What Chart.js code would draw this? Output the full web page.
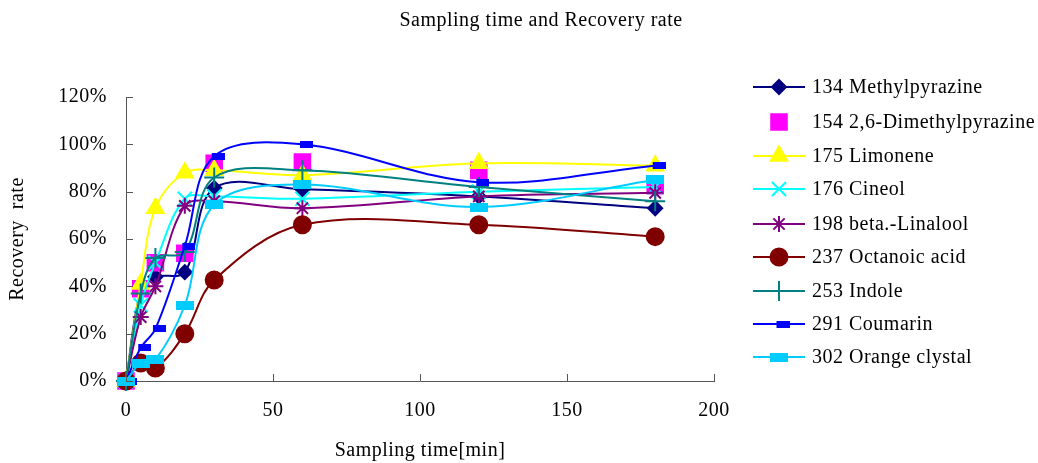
<!DOCTYPE html>
<html>
<head>
<meta charset="utf-8">
<script src="https://cdn.jsdelivr.net/npm/chart.js@4/dist/chart.umd.min.js"></script>
<style>
  html, body { margin: 0; padding: 0; background: #fff; }
  #wrap { width: 1038px; height: 463px; position: relative; }
</style>
</head>
<body>
<div id="wrap"><canvas id="chart" width="1038" height="463"></canvas></div>
<script>
// sampling times (min)
const times = [0, 5, 10, 20, 30, 60, 120, 180];

// recovery rate (%) per compound
const methylpyrazine    = [0, 38, 44, 46, 81.5, 81, 78, 73];
const dimethylpyrazine  = [0, 39, 50, 54, 92, 92.5, 89, 82.5];
const limonene          = [0, 41, 73, 88, 89, 87, 92, 91];
const cineol            = [0, 32, 50, 77, 78, 77, 80, 82];
const linalool          = [0, 27, 40, 74, 76, 73, 78, 79.5];
const octanoicAcid      = [0, 7.6, 5.5, 20, 42.7, 66, 66, 61];
const indole            = [0, 37, 52, 54.5, 86, 89, 82, 76];
const coumarin          = [0, 14, 22, 57, 95, 100, 84, 91];
const orangeClystal     = [0, 7.6, 9, 32, 74.5, 83, 73.5, 85];

const seriesNames = ['134 Methylpyrazine', '154 2,6-Dimethylpyrazine', '175 Limonene', '176 Cineol',
  '198 beta.-Linalool', '237 Octanoic acid', '253 Indole', '291 Coumarin', '302 Orange clystal'];
const yTicks = [0, 20, 40, 60, 80, 100, 120];
const xTicks = [0, 50, 100, 150, 200];

const FONT = '"Liberation Serif", "Times New Roman", serif';
const FS = 20;

function dash(w, h, color, offset) {
  const c = document.createElement('canvas');
  c.width = w + Math.abs(offset) * 2;
  c.height = h;
  const g = c.getContext('2d');
  g.fillStyle = color;
  g.fillRect(Math.abs(offset) + offset, 0, w, h);
  return c;
}

const coumarinMark = dash(13, 7, '#0000FF', 4);
const orangeMark = dash(18, 9, '#00CCFF', 0);

function pts(vals) {
  return times.map((t, i) => ({ x: t, y: vals[i] }));
}

const styles = [
  { data: methylpyrazine, color: '#000080', pointStyle: 'rectRot', radius: 7 },
  { data: dimethylpyrazine, color: '#FF00FF', pointStyle: 'rect', radius: 11, noLine: true },
  { data: limonene, color: '#FFFF00', pointStyle: 'triangle', radius: 9.5 },
  { data: cineol, color: '#00FFFF', pointStyle: 'crossRot', radius: 10 },
  { data: linalool, color: '#800080', pointStyle: 'star', radius: 8 },
  { data: octanoicAcid, color: '#800000', pointStyle: 'circle', radius: 8.5 },
  { data: indole, color: '#008080', pointStyle: 'cross', radius: 10 },
  { data: coumarin, color: '#0000FF', pointStyle: coumarinMark, radius: 7 },
  { data: orangeClystal, color: '#00CCFF', pointStyle: orangeMark, radius: 9 }
];

const datasets = styles.map((s, i) => ({
  label: seriesNames[i],
  data: pts(s.data),
  borderColor: s.color,
  backgroundColor: s.color,
  borderWidth: 2,
  showLine: !s.noLine,
  tension: 0.35,
  pointStyle: s.pointStyle,
  pointRadius: s.radius,
  pointHoverRadius: s.radius,
  pointBorderWidth: 2,
  pointBorderColor: s.color,
  pointBackgroundColor: s.color,
  clip: false,
  order: styles.length - i
}));

// excel-like wide letter spacing for all canvas text
const spacing = {
  id: 'spacing',
  beforeDraw(chart) { chart.ctx.letterSpacing = '0.5px'; }
};

// inside tick marks, title and the side legend
const extras = {
  id: 'extras',
  afterDraw(chart) {
    const ctx = chart.ctx;
    const xs = chart.scales.x, ys = chart.scales.y;
    ctx.save();
    ctx.strokeStyle = '#555';
    ctx.lineWidth = 1;
    ctx.beginPath();
    xTicks.forEach(v => {
      const px = Math.round(xs.getPixelForValue(v)) + 0.5;
      ctx.moveTo(px, ys.bottom);
      ctx.lineTo(px, ys.bottom - 7);
    });
    yTicks.forEach(v => {
      const py = Math.round(ys.getPixelForValue(v)) + 0.5;
      ctx.moveTo(xs.left, py);
      ctx.lineTo(xs.left + 7, py);
    });
    ctx.stroke();

    ctx.letterSpacing = '0.5px';
    ctx.fillStyle = '#000';
    ctx.font = FS + 'px ' + FONT;
    ctx.textAlign = 'center';
    ctx.textBaseline = 'middle';
    ctx.fillText('Sampling time and Recovery rate', 541, 21);

    // legend
    const rowY = [87, 122, 156, 189, 224, 257, 291, 324, 357];
    ctx.textAlign = 'left';
    chart.data.datasets.forEach((ds, i) => {
      const y = rowY[i];
      if (ds.showLine) {
        ctx.strokeStyle = ds.borderColor;
        ctx.lineWidth = 2;
        ctx.beginPath();
        ctx.moveTo(753, y);
        ctx.lineTo(805, y);
        ctx.stroke();
      }
      ctx.strokeStyle = ds.borderColor;
      ctx.fillStyle = ds.backgroundColor;
      ctx.lineWidth = 2;
      Chart.helpers.drawPoint(ctx, { pointStyle: ds.pointStyle, radius: ds.pointRadius, rotation: 0, borderWidth: 2 }, 779, y);
      ctx.fillStyle = '#000';
      ctx.fillText(ds.label, 812, y + 1);
    });
    ctx.restore();
  }
};

new Chart(document.getElementById('chart'), {
  type: 'line',
  data: { datasets },
  options: {
    responsive: false,
    animation: false,
    events: [],
    layout: { padding: { left: 0, right: 324, top: 97, bottom: 0 } },
    plugins: { legend: { display: false }, tooltip: { enabled: false }, title: { display: false } },
    scales: {
      x: {
        type: 'linear',
        min: 0, max: 200,
        afterFit: s => { s.height = 82; },
        afterBuildTicks: s => { s.ticks = xTicks.map(v => ({ value: v })); },
        grid: { display: false, drawTicks: false },
        border: { display: true, color: '#555', width: 1 },
        ticks: { color: '#000', font: { family: FONT, size: FS }, padding: 18, maxRotation: 0 },
        title: { display: true, text: 'Sampling time[min]', color: '#000', font: { family: FONT, size: FS }, padding: { top: 0, bottom: 0 } }
      },
      y: {
        min: 0, max: 120,
        afterFit: s => { s.width = 126; },
        afterBuildTicks: s => { s.ticks = yTicks.map(v => ({ value: v })); },
        grid: { display: false, drawTicks: false },
        border: { display: true, color: '#555', width: 1 },
        ticks: { color: '#000', font: { family: FONT, size: FS }, padding: 19, callback: v => v + '%' },
        title: { display: true, text: 'Recovery  rate', color: '#000', font: { family: FONT, size: FS }, padding: { top: 6, bottom: 0 } }
      }
    }
  },
  plugins: [spacing, extras]
});
</script>
</body>
</html>
